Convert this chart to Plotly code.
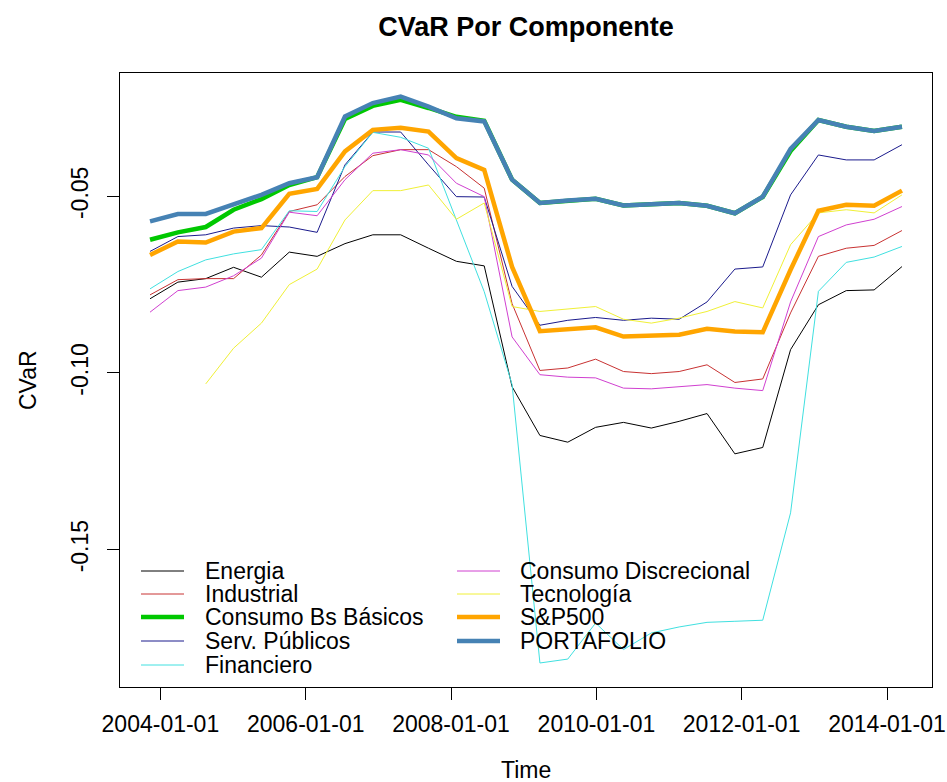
import plotly.graph_objects as go

# ---- data ----
dates = [
    "2003-11-10", "2004-03-29", "2004-08-16", "2005-01-03", "2005-05-23",
    "2005-10-10", "2006-02-27", "2006-07-17", "2006-12-04", "2007-04-23",
    "2007-09-10", "2008-01-28", "2008-06-16", "2008-11-03", "2009-03-23",
    "2009-08-10", "2009-12-28", "2010-05-17", "2010-10-04", "2011-02-21",
    "2011-07-11", "2011-11-28", "2012-04-16", "2012-09-03", "2013-01-21",
    "2013-06-10", "2013-10-28", "2014-03-17",
]

energia = [-0.0790, -0.0743, -0.0733, -0.0701, -0.0729, -0.0658, -0.0670, -0.0634,
           -0.0609, -0.0609, -0.0647, -0.0684, -0.0697, -0.1039, -0.1177, -0.1196,
           -0.1154, -0.1140, -0.1156, -0.1137, -0.1115, -0.1229, -0.1211, -0.0934,
           -0.0807, -0.0767, -0.0765, -0.0699]
industrial = [-0.0779, -0.0736, -0.0733, -0.0733, -0.0666, -0.0543, -0.0524, -0.0444,
              -0.0385, -0.0368, -0.0368, -0.0416, -0.0477, -0.0804, -0.0993, -0.0986,
              -0.0961, -0.0996, -0.1002, -0.0996, -0.0977, -0.1027, -0.1017, -0.0830,
              -0.0670, -0.0647, -0.0639, -0.0597]
consumo_basicos = [-0.0623, -0.0602, -0.0587, -0.0538, -0.0508, -0.0468, -0.0446, -0.0281,
                   -0.0244, -0.0227, -0.0250, -0.0275, -0.0286, -0.0453, -0.0519, -0.0512,
                   -0.0507, -0.0526, -0.0522, -0.0519, -0.0527, -0.0548, -0.0502, -0.0372,
                   -0.0284, -0.0303, -0.0315, -0.0303]
serv_publicos = [-0.0656, -0.0614, -0.0609, -0.0590, -0.0583, -0.0587, -0.0602, -0.0411,
                 -0.0318, -0.0318, -0.0411, -0.0501, -0.0502, -0.0755, -0.0865, -0.0851,
                 -0.0843, -0.0851, -0.0845, -0.0848, -0.0799, -0.0706, -0.0700, -0.0496,
                 -0.0383, -0.0397, -0.0397, -0.0354]
financiero = [-0.0762, -0.0713, -0.0680, -0.0663, -0.0651, -0.0541, -0.0543, -0.0416,
              -0.0319, -0.0333, -0.0364, -0.0566, -0.0770, -0.1033, -0.1821, -0.1810,
              -0.1708, -0.1783, -0.1736, -0.1719, -0.1706, -0.1703, -0.1700, -0.1396,
              -0.0769, -0.0687, -0.0672, -0.0642]
consumo_discrecional = [-0.0828, -0.0767, -0.0757, -0.0725, -0.0675, -0.0545, -0.0555, -0.0453,
                        -0.0378, -0.0368, -0.0383, -0.0463, -0.0501, -0.0898, -0.1005, -0.1012,
                        -0.1014, -0.1043, -0.1045, -0.1040, -0.1033, -0.1043, -0.1050, -0.0799,
                        -0.0614, -0.0581, -0.0565, -0.0529]
tecnologia = [None, None, -0.1031, -0.0930, -0.0859, -0.0750, -0.0706, -0.0567,
              -0.0484, -0.0484, -0.0468, -0.0565, -0.0519, -0.0812, -0.0826, -0.0819,
              -0.0812, -0.0848, -0.0859, -0.0845, -0.0826, -0.0798, -0.0816, -0.0637,
              -0.0547, -0.0538, -0.0547, -0.0496]
sp500 = [-0.0666, -0.0628, -0.0631, -0.0600, -0.0590, -0.0493, -0.0479, -0.0373,
         -0.0312, -0.0306, -0.0317, -0.0392, -0.0425, -0.0700, -0.0882, -0.0876,
         -0.0871, -0.0897, -0.0895, -0.0892, -0.0875, -0.0883, -0.0885, -0.0708,
         -0.0541, -0.0524, -0.0527, -0.0484]
portafolio = [-0.0571, -0.0550, -0.0550, -0.0524, -0.0496, -0.0463, -0.0446, -0.0274,
              -0.0236, -0.0218, -0.0246, -0.0279, -0.0288, -0.0453, -0.0519, -0.0512,
              -0.0507, -0.0526, -0.0522, -0.0519, -0.0527, -0.0548, -0.0501, -0.0366,
              -0.0284, -0.0303, -0.0315, -0.0303]

series_names = ["Energia", "Industrial", "Consumo Bs Básicos", "Serv. Públicos",
                "Financiero", "Consumo Discrecional", "Tecnología", "S&P500", "PORTAFOLIO"]
series_values = [energia, industrial, consumo_basicos, serv_publicos, financiero,
                 consumo_discrecional, tecnologia, sp500, portafolio]

x_tick_vals = ["2004-01-01", "2006-01-01", "2008-01-01", "2010-01-01", "2012-01-01", "2014-01-01"]
x_tick_text = ["2004-01-01", "2006-01-01", "2008-01-01", "2010-01-01", "2012-01-01", "2014-01-01"]
y_tick_vals = [-0.15, -0.10, -0.05]
y_tick_text = ["-0.15", "-0.10", "-0.05"]

# ---- styles ----
colors = ["#000000", "#C83232", "#00C800", "#1A1A8C", "#40E0E0",
          "#D040D0", "#F0F036", "#FFA500", "#4682B4"]
widths = [1, 1, 4.5, 1, 1, 1, 1, 4.5, 4.5]

FONT = "Liberation Sans, Arial, sans-serif"
W, H = 947, 782
# plot box in page pixels: x 120..932, y 73..687
BX0, BX1, BY0, BY1 = 120, 932, 73, 687
ML, MR = BX0, W - BX1
MT, MB = BY0, H - BY1
PW, PH = BX1 - BX0, BY1 - BY0

fig = go.Figure()
for name, vals, c, w in zip(series_names, series_values, colors, widths):
    fig.add_trace(go.Scatter(x=dates, y=vals, mode="lines", name=name,
                             line=dict(color=c, width=w), showlegend=False,
                             connectgaps=False))

def px_x(px):
    return (px - BX0) / PW

def px_y(py):
    return (BY1 - py) / PH

# legend drawn as two columns (R style, no box)
shapes = []
annotations = []
col_line = [(141, 184, 203), (457, 500, 518)]
row_y = [571, 594, 617, 641, 665]
for i, (name, c, w) in enumerate(zip(series_names, colors, widths)):
    col = 0 if i < 5 else 1
    row = i if i < 5 else i - 5
    x0, x1, xt = col_line[col]
    yy = px_y(row_y[row])
    shapes.append(dict(type="line", xref="paper", yref="paper",
                       x0=px_x(x0), x1=px_x(x1), y0=yy, y1=yy,
                       line=dict(color=c, width=w)))
    annotations.append(dict(text=name, xref="paper", yref="paper",
                            x=px_x(xt), y=yy, xanchor="left", yanchor="middle",
                            showarrow=False, font=dict(size=23, color="#000000", family=FONT)))

annotations.append(dict(text="Time", xref="paper", yref="paper", x=0.5, y=px_y(770),
                        xanchor="center", yanchor="middle", showarrow=False,
                        font=dict(size=23, color="#000000", family=FONT)))
annotations.append(dict(text="CVaR", xref="paper", yref="paper", x=px_x(28), y=0.5,
                        xanchor="center", yanchor="middle", showarrow=False, textangle=-90,
                        font=dict(size=23, color="#000000", family=FONT)))

fig.update_layout(
    width=W, height=H, autosize=False,
    margin=dict(l=ML, r=MR, t=MT, b=MB, pad=0, autoexpand=False),
    paper_bgcolor="white", plot_bgcolor="white",
    title=dict(text="<b>CVaR Por Componente</b>", x=(BX0 + PW / 2) / W, xanchor="center",
               y=1 - 27 / H, yanchor="middle",
               font=dict(size=27, color="#000000", family=FONT)),
    font=dict(family=FONT, size=23, color="#000000"),
    shapes=shapes, annotations=annotations, showlegend=False,
)
fig.update_xaxes(type="date", range=["2003-06-12", "2014-08-15"],
                 tickvals=x_tick_vals, ticktext=x_tick_text, automargin=False,
                 showgrid=False, zeroline=False,
                 showline=True, linecolor="#000000", linewidth=1, mirror=True,
                 ticks="outside", ticklen=12, tickwidth=1, tickcolor="#000000",
                 tickfont=dict(size=23, family=FONT), ticklabelstandoff=4)
fig.update_yaxes(range=[-0.1889, -0.0151],
                 tickvals=y_tick_vals, ticktext=y_tick_text, tickangle=-90, automargin=False,
                 showgrid=False, zeroline=False,
                 showline=True, linecolor="#000000", linewidth=1, mirror=True,
                 ticks="outside", ticklen=12, tickwidth=1, tickcolor="#000000",
                 tickfont=dict(size=23, family=FONT), ticklabelstandoff=10)

fig.write_html(
    "out.html",
    config={"responsive": False, "displayModeBar": False},
    post_script="document.body.style.margin='0';document.body.style.overflow='hidden';",
)
